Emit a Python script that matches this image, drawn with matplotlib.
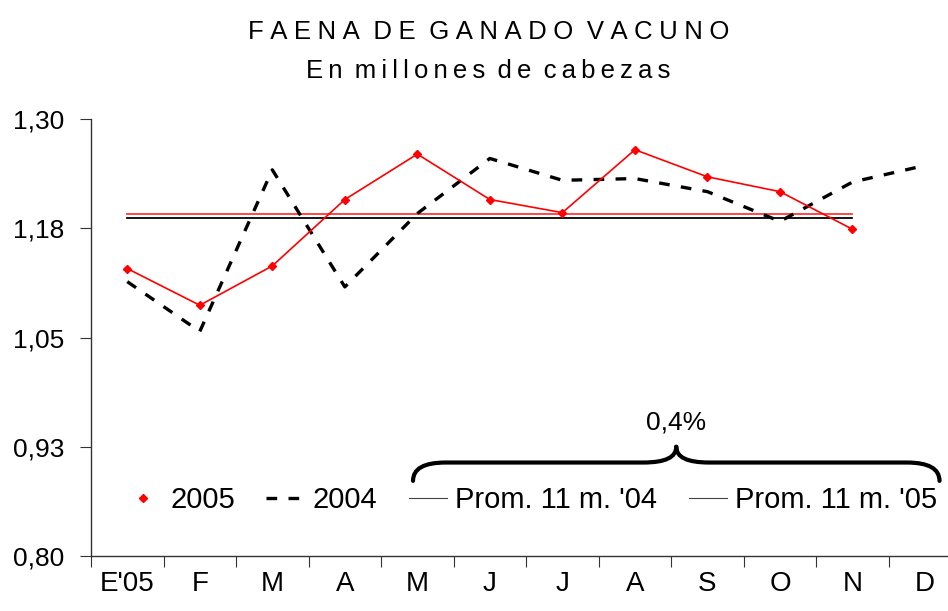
import numpy as np
import matplotlib
matplotlib.use('Agg')
import matplotlib.pyplot as plt
import matplotlib.ticker as mtick
from matplotlib.path import Path
from matplotlib.patches import PathPatch

plt.rcParams['font.family'] = ['Liberation Sans', 'DejaVu Sans']
plt.rcParams['font.size'] = 19

# data (millones de cabezas)
months = ["E'05", "F", "M", "A", "M", "J", "J", "A", "S", "O", "N", "D"]
faena_2005 = [1.129, 1.087, 1.132, 1.208, 1.260, 1.208, 1.193, 1.265, 1.234, 1.217, 1.174]
faena_2004 = [1.114, 1.057, 1.242, 1.108, 1.192, 1.255, 1.230, 1.232, 1.217, 1.183, 1.228, 1.247]
yticks = [0.80, 0.925, 1.05, 1.175, 1.30]

prom_05 = np.mean(faena_2005)
prom_04 = np.mean(faena_2004[:11])
var_pct = "0,4%"

x05 = np.arange(len(faena_2005))
x04 = np.arange(len(faena_2004))


def spaced(txt, gap):
    # letter-spaced title text
    return (gap + ' ').join(gap.join(w) for w in txt.split(' '))


fig = plt.figure(figsize=(9.48, 6.11), dpi=100)
ax = fig.add_axes([0.096, 0.090, 0.918, 0.715])

ax.plot(x05, [prom_05] * len(x05), color='#ff3838', lw=1.3, label="Prom. 11 m. '05")
ax.plot(x05, [prom_04] * len(x05), color='black', lw=1.3, label="Prom. 11 m. '04")
ax.plot(x04, faena_2004, color='black', lw=2.4, dashes=(3.2, 3.4), label='2004')
ax.plot(x05, faena_2005, color='red', lw=1.2, marker='D', ms=4.5, label='2005')

ax.set_xlim(-0.5, 11.5)
ax.set_ylim(0.80, 1.30)
ax.set_yticks(yticks)
ax.yaxis.set_major_formatter(mtick.FuncFormatter(lambda v, p: '{:.2f}'.format(v).replace('.', ',')))

# category boundaries as ticks, labels in the middle
ax.set_xticks(np.arange(-0.5, 12, 1.0))
ax.set_xticklabels([])
ax.set_xticks(np.arange(len(months)), minor=True)
ax.set_xticklabels(months, minor=True, fontsize=20)
ax.tick_params(axis='x', which='major', direction='out', length=8, color='#333333')
ax.tick_params(axis='x', which='minor', length=0, pad=11)
ax.tick_params(axis='y', direction='out', length=8, color='#333333', pad=11)

for s in ['top', 'right']:
    ax.spines[s].set_visible(False)
for s in ['left', 'bottom']:
    ax.spines[s].set_color('#333333')
    ax.spines[s].set_linewidth(1.0)

# legend
h, l = ax.get_legend_handles_labels()
order = [3, 2, 1, 0]
leg = ax.legend([h[i] for i in order], [l[i] for i in order], ncol=4, frameon=False,
                loc='center', bbox_to_anchor=(0.505, 0.128), handlelength=1.3,
                handletextpad=0.3, columnspacing=1.07, fontsize=21, borderaxespad=0)
leg.legend_handles[0].set_linestyle('None')
for k in (2, 3):
    leg.legend_handles[k].set_color('#444444')
    leg.legend_handles[k].set_linewidth(0.8)

# brace marking the difference between averages
x0, x1, xm = 3.94, 11.2, 7.57
yb, yh, yt = 0.886, 0.907, 0.925
verts = [(x0, yb), (x0, yh), (x0 + 0.45, yh), (xm - 0.45, yh), (xm, yh), (xm, yt),
         (xm, yt), (xm, yh), (xm + 0.45, yh), (x1 - 0.45, yh), (x1, yh), (x1, yb)]
codes = [Path.MOVETO, Path.CURVE3, Path.CURVE3, Path.LINETO, Path.CURVE3, Path.CURVE3,
         Path.MOVETO, Path.CURVE3, Path.CURVE3, Path.LINETO, Path.CURVE3, Path.CURVE3]
ax.add_patch(PathPatch(Path(verts, codes), fill=False, lw=3, color='black', capstyle='round'))
ax.text(xm, 0.953, var_pct, ha='center', va='center', fontsize=19)

fig.text(0.515, 0.948, spaced("FAENA DE GANADO VACUNO", '\u2005'), ha='center', va='center', fontsize=18.5)
fig.text(0.515, 0.883, spaced("En millones de cabezas", '\u2009'), ha='center', va='center', fontsize=18.5)

fig.savefig('out.png', dpi=100)
